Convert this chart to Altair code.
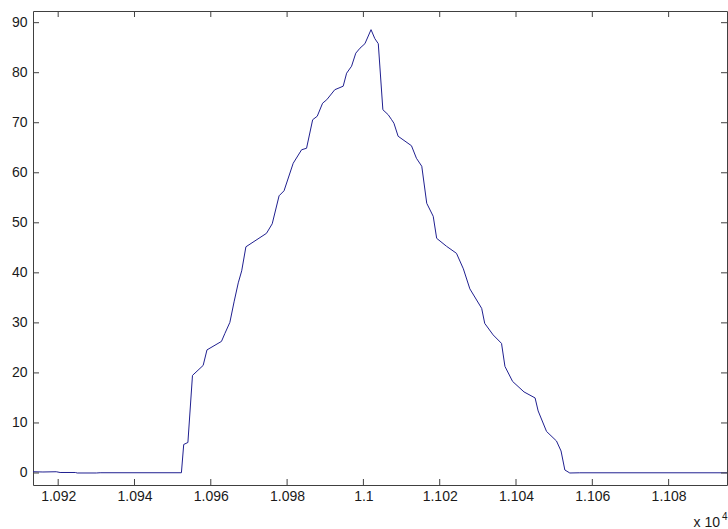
import altair as alt
import pandas as pd

# x values (raw units; axis shows them scaled by 10^4)
x_vals = [10913.4, 10916.0, 10919.5, 10920.5, 10924.5, 10925.0, 10930.0, 10931.0, 10952.3,
          10952.9, 10954.0, 10955.2, 10958.0, 10959.0, 10962.8, 10963.7, 10965.0, 10966.1,
          10967.2, 10968.1, 10969.2, 10974.6, 10976.1, 10977.9, 10979.2, 10981.6, 10983.8,
          10985.1, 10986.7, 10987.9, 10989.3, 10990.4, 10992.5, 10994.7, 10995.6, 10996.9,
          10998.0, 10999.1, 11000.4, 11002.0, 11003.0, 11003.9, 11005.1, 11006.5, 11007.4,
          11008.0, 11009.1, 11012.6, 11013.9, 11015.3, 11016.6, 11018.3, 11019.2, 11021.8,
          11024.4, 11026.2, 11027.9, 11031.0, 11031.8, 11034.0, 11036.2, 11037.1, 11039.1,
          11042.1, 11045.0, 11045.8, 11048.0, 11050.6, 11051.8, 11052.8, 11054.1, 11056.7,
          11095.3]
y_vals = [0.25, 0.2, 0.25, 0.1, 0.1, 0.0, 0.0, 0.05, 0.05,
          5.7, 6.1, 19.5, 21.5, 24.6, 26.3, 27.9, 30.1, 34.2,
          38.0, 40.4, 45.2, 47.9, 49.8, 55.4, 56.4, 61.9, 64.6,
          64.9, 70.6, 71.3, 73.9, 74.6, 76.6, 77.3, 79.9, 81.3,
          83.9, 84.9, 85.8, 88.6, 86.8, 85.8, 72.6, 71.6, 70.6,
          69.9, 67.3, 65.4, 62.9, 61.3, 53.9, 51.3, 46.9, 45.3,
          43.9, 40.8, 36.8, 32.9, 29.9, 27.6, 25.9, 21.3, 18.3,
          16.2, 15.0, 12.4, 8.3, 6.4, 4.4, 0.6, 0.0, 0.04,
          0.04]

x_ticks = [10920, 10940, 10960, 10980, 11000, 11020, 11040, 11060, 11080]
y_ticks = [0, 10, 20, 30, 40, 50, 60, 70, 80, 90]
x_domain = [10913.4, 11095.3]
y_domain = [-2.4, 92.33]

df = pd.DataFrame({"x": x_vals, "y": y_vals})
xt = pd.DataFrame({"x": x_ticks})
yt = pd.DataFrame({"y": y_ticks})

FONT = "Liberation Sans"
AX = "#404040"
TXT = "#1a1a1a"
LINE = "#202090"
W, H, TICK = 694, 474, 6

xs = alt.Scale(domain=x_domain, nice=False, zero=False)
ys = alt.Scale(domain=y_domain, nice=False, zero=False)

x_axis = alt.Axis(orient="bottom", values=x_ticks,
                  labelExpr="format(datum.value / 10000, '.4~f')", labelFont=FONT,
                  labelFontSize=14, labelColor=TXT, labelPadding=4, grid=False,
                  domain=False, ticks=False, title=None)
y_axis = alt.Axis(orient="left", values=y_ticks, labelFont=FONT, labelFontSize=14,
                  labelColor=TXT, labelPadding=6, grid=False, domain=False,
                  ticks=False, title=None)

main = alt.Chart(df).mark_line(color=LINE, strokeWidth=1, clip=True).encode(
    x=alt.X("x:Q", scale=xs, axis=x_axis),
    y=alt.Y("y:Q", scale=ys, axis=y_axis),
)

rule_style = dict(color=AX, strokeWidth=1)

tick_bottom = alt.Chart(xt).mark_rule(**rule_style).encode(
    x=alt.X("x:Q", scale=xs, axis=None), y=alt.value(H), y2=alt.value(H - TICK))
tick_top = alt.Chart(xt).mark_rule(**rule_style).encode(
    x=alt.X("x:Q", scale=xs, axis=None), y=alt.value(0), y2=alt.value(TICK))
tick_left = alt.Chart(yt).mark_rule(**rule_style).encode(
    y=alt.Y("y:Q", scale=ys, axis=None), x=alt.value(0), x2=alt.value(TICK))
tick_right = alt.Chart(yt).mark_rule(**rule_style).encode(
    y=alt.Y("y:Q", scale=ys, axis=None), x=alt.value(W), x2=alt.value(W - TICK))

exp_base = alt.Chart(pd.DataFrame({"t": ["x 10"]})).mark_text(
    font=FONT, fontSize=14, color=TXT, align="right", baseline="alphabetic"
).encode(text="t:N", x=alt.value(687), y=alt.value(516))

exp_sup = alt.Chart(pd.DataFrame({"t": ["4"]})).mark_text(
    font=FONT, fontSize=10, color=TXT, align="left", baseline="alphabetic"
).encode(text="t:N", x=alt.value(689), y=alt.value(509))

chart = alt.layer(main, tick_bottom, tick_top, tick_left, tick_right,
                  exp_base, exp_sup).resolve_axis(
    x="independent", y="independent"
).properties(
    width=W, height=H,
    padding={"left": 33, "top": 11, "right": 1, "bottom": 44},
    autosize=alt.AutoSizeParams(type="none"),
    background="white",
).configure_view(stroke=AX, strokeWidth=1)

chart.save("out.html", embed_options={"renderer": "svg", "actions": False})
